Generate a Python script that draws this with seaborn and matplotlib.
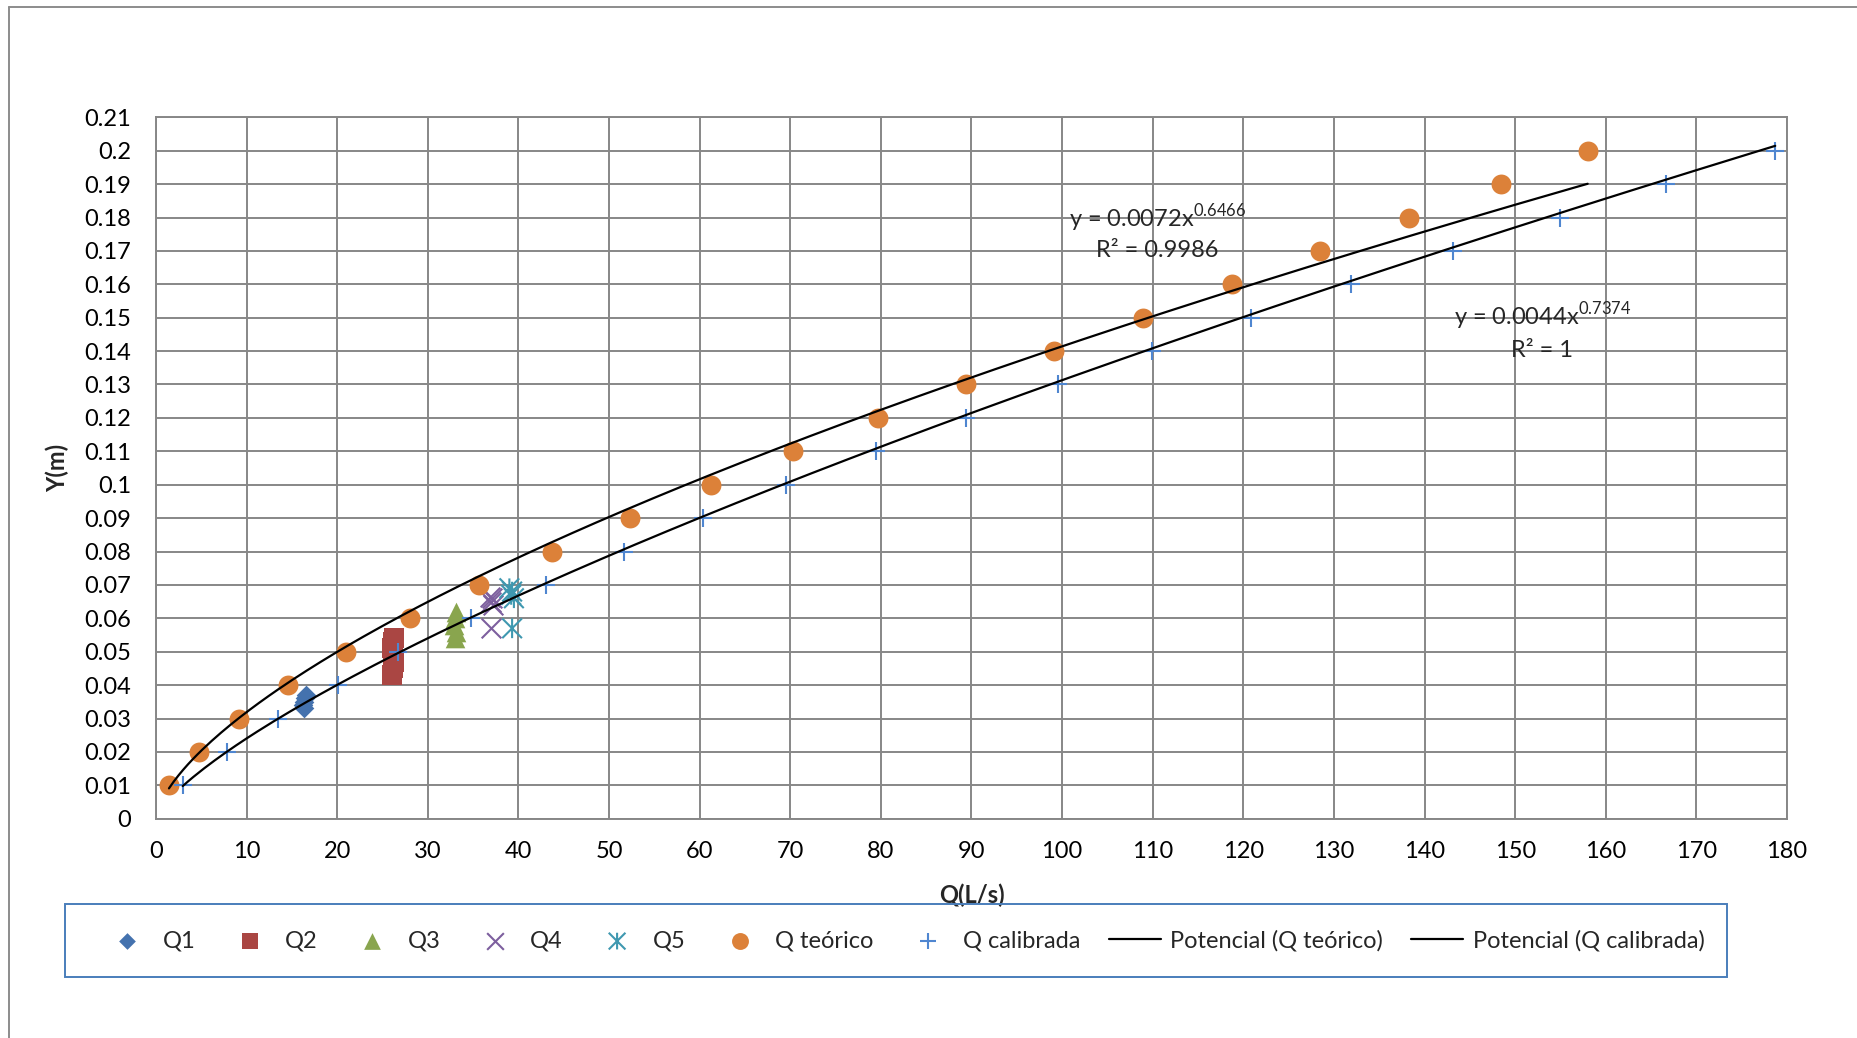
import numpy as np
import pandas as pd
import matplotlib
matplotlib.use("Agg")
import matplotlib.pyplot as plt
from matplotlib.path import Path
from matplotlib.lines import Line2D
from matplotlib.patches import Rectangle
import seaborn as sns

# ---- measured flows (L/s) and water depths (m) ----
q1_x = [16.5, 16.4, 16.3, 16.2, 16.3]
q1_y = [0.037, 0.036, 0.035, 0.034, 0.033]

q2_x = [26.1, 26.2, 26.3, 26.2, 26.1, 26.2, 26.3]
q2_y = [0.043, 0.045, 0.047, 0.049, 0.051, 0.053, 0.054]

q3_x = [33.0, 33.1, 32.9, 33.0, 33.1]
q3_y = [0.054, 0.056, 0.058, 0.060, 0.062]

q4_x = [36.9, 37.1, 37.0, 37.2, 37.0]
q4_y = [0.0665, 0.066, 0.065, 0.064, 0.057]

q5_x = [39.0, 39.3, 39.2, 39.5, 39.3]
q5_y = [0.069, 0.068, 0.067, 0.066, 0.057]

# ---- theoretical and calibrated discharge curves ----
depth_y = [0.01, 0.02, 0.03, 0.04, 0.05, 0.06, 0.07, 0.08, 0.09, 0.10,
           0.11, 0.12, 0.13, 0.14, 0.15, 0.16, 0.17, 0.18, 0.19, 0.20]
q_teorico = [1.43, 4.7, 9.15, 14.6, 21.0, 28.0, 35.6, 43.7, 52.3, 61.2,
             70.3, 79.7, 89.4, 99.1, 108.9, 118.7, 128.5, 138.3, 148.4, 158.0]
q_calibrada = [2.95, 7.8, 13.5, 20.1, 26.7, 34.8, 43.0, 51.6, 60.4, 69.5,
               79.5, 89.4, 99.6, 109.9, 120.8, 131.9, 143.1, 154.9, 166.7, 178.7]

# power trendline coefficients y = a * x^b, with R²
trend_teorico = [0.0072, 0.6466, 0.9986]
trend_calibrada = [0.0044, 0.7374, 1]

x_ticks = list(range(0, 190, 10))
y_ticks = [0, 0.01, 0.02, 0.03, 0.04, 0.05, 0.06, 0.07, 0.08, 0.09, 0.10,
           0.11, 0.12, 0.13, 0.14, 0.15, 0.16, 0.17, 0.18, 0.19, 0.20, 0.21]
y_tick_labels = ["0", "0.01", "0.02", "0.03", "0.04", "0.05", "0.06", "0.07",
                 "0.08", "0.09", "0.1", "0.11", "0.12", "0.13", "0.14", "0.15",
                 "0.16", "0.17", "0.18", "0.19", "0.2", "0.21"]

sns.set_style("white")
plt.rcParams["font.family"] = ["Lato", "DejaVu Sans"]
plt.rcParams["mathtext.fontset"] = "custom"
plt.rcParams["mathtext.rm"] = "Lato"

W, H = 1858, 1038
fig = plt.figure(figsize=(W / 100, H / 100), dpi=100)
ax = fig.add_axes([156 / W, 1 - 818.7 / H, (1787 - 156) / W, (818.7 - 117.3) / H])

grid_c = "#878787"
ax.set_xlim(0, 180)
ax.set_ylim(0, 0.21)
ax.set_xticks(x_ticks)
ax.set_yticks(y_ticks)
ax.set_yticklabels(y_tick_labels)
ax.grid(True, color=grid_c, linewidth=1.4)
ax.set_axisbelow(True)
for s in ax.spines.values():
    s.set_color(grid_c)
    s.set_linewidth(1.4)
ax.tick_params(axis="both", length=0, labelsize=17, colors="black")
ax.tick_params(axis="x", pad=16)
ax.tick_params(axis="y", pad=18)

# asterisk marker: X with a vertical stroke
ast = Path(
    [(-0.5, -0.5), (0.5, 0.5), (-0.5, 0.5), (0.5, -0.5), (0, -0.5), (0, 0.5)],
    [Path.MOVETO, Path.LINETO, Path.MOVETO, Path.LINETO, Path.MOVETO, Path.LINETO],
)

c_q1, c_q2, c_q3 = "#4472AE", "#AA4643", "#89A54E"
c_q4, c_q5 = "#7D5F9E", "#3F98B0"
c_teo, c_cal = "#DC8139", "#4F86D0"

sns.scatterplot(x=q1_x, y=q1_y, ax=ax, marker="D", s=100, color=c_q1,
                linewidth=0, label="Q1", zorder=3)
sns.scatterplot(x=q2_x, y=q2_y, ax=ax, marker="s", s=200, color=c_q2,
                linewidth=0, label="Q2", zorder=3)
sns.scatterplot(x=q3_x, y=q3_y, ax=ax, marker="^", s=200, color=c_q3,
                linewidth=0, label="Q3", zorder=3)
sns.scatterplot(x=q4_x, y=q4_y, ax=ax, marker="x", s=200, color=c_q4,
                edgecolor=c_q4, linewidth=1.5, label="Q4", zorder=3)
sns.scatterplot(x=q5_x, y=q5_y, ax=ax, marker=ast, s=200, facecolor="none",
                edgecolor=c_q5, linewidth=1.5, label="Q5", zorder=3)
sns.scatterplot(x=q_teorico, y=depth_y, ax=ax, marker="o", s=205, color=c_teo,
                linewidth=0, label="Q teórico", zorder=3)
sns.scatterplot(x=q_calibrada, y=depth_y, ax=ax, marker="+", s=170, color=c_cal,
                edgecolor=c_cal, linewidth=1.5, label="Q calibrada", zorder=3)

# power trendlines over each data range
xt = np.linspace(min(q_teorico), max(q_teorico), 300)
xc = np.linspace(min(q_calibrada), max(q_calibrada), 300)
df_t = pd.DataFrame({"x": xt, "y": trend_teorico[0] * xt ** trend_teorico[1]})
df_c = pd.DataFrame({"x": xc, "y": trend_calibrada[0] * xc ** trend_calibrada[1]})
sns.lineplot(data=df_t, x="x", y="y", ax=ax, color="black", linewidth=1.6,
             label="Potencial (Q teórico)", zorder=4, sort=False)
sns.lineplot(data=df_c, x="x", y="y", ax=ax, color="black", linewidth=1.6,
             label="Potencial (Q calibrada)", zorder=4, sort=False)

# trendline equations
eq_fs = 17
ax.text(110.5, 0.1772, "y = %.4fx$^{\\mathregular{%.4f}}$" % (trend_teorico[0], trend_teorico[1]),
        ha="center", va="baseline", fontsize=eq_fs, zorder=5)
ax.text(110.5, 0.1683, "R² = %.4f" % trend_teorico[2], ha="center", va="baseline",
        fontsize=eq_fs, zorder=5)
ax.text(153.0, 0.1478, "y = %.4fx$^{\\mathregular{%.4f}}$" % (trend_calibrada[0], trend_calibrada[1]),
        ha="center", va="baseline", fontsize=eq_fs, zorder=5)
ax.text(153.0, 0.1383, "R² = %d" % trend_calibrada[2], ha="center", va="baseline",
        fontsize=eq_fs, zorder=5)

ax.set_xlabel("Q(L/s)", fontsize=17, fontweight="bold")
ax.set_ylabel("Y(m)", fontsize=17, fontweight="bold")
ax.xaxis.set_label_coords(0.5, -0.093)
ax.yaxis.set_label_coords(-0.053, 0.5)

# legend inside a framed box beneath the plot
handles, labels = ax.get_legend_handles_labels()
if ax.legend_:
    ax.legend_.remove()
fig.patches.append(Rectangle((65 / W, 1 - 977 / H), (1727 - 65) / W, 73 / H,
                             transform=fig.transFigure, fill=False,
                             edgecolor="#4A7EBB", linewidth=1.4))
fig.legend(handles, labels, loc="center", bbox_to_anchor=(903 / W, 1 - 940.5 / H),
           ncol=9, frameon=False, fontsize=17, markerscale=0.85,
           handlelength=2.2, handletextpad=0.4, columnspacing=1.2)

# outer chart frame
fig.add_artist(Line2D([8.5 / W, 8.5 / W], [0, 1 - 7 / H], transform=fig.transFigure,
                      color="#8C8C8C", linewidth=1.4))
fig.add_artist(Line2D([8.5 / W, 1], [1 - 7 / H, 1 - 7 / H], transform=fig.transFigure,
                      color="#8C8C8C", linewidth=1.4))

fig.savefig("out.png", dpi=100)
